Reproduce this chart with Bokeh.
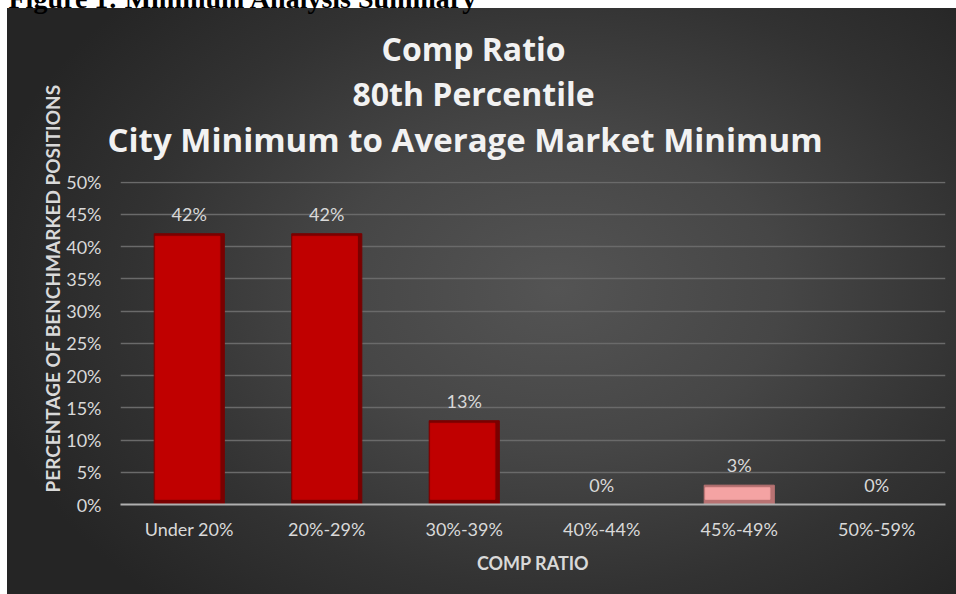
import math
from bokeh.plotting import figure
from bokeh.models import (ColumnDataSource, FactorRange, Range1d, NumeralTickFormatter,
                          SingleIntervalTicker, LabelSet, Title)
from bokeh.transform import dodge
from bokeh.core.properties import value
from bokeh.embed import file_html
from bokeh.resources import INLINE

# ---- data ----
categories = ["Under 20%", "20%-29%", "30%-39%", "40%-44%", "45%-49%", "50%-59%"]
shares = [0.42, 0.42, 0.13, 0.00, 0.03, 0.00]
share_labels = ["42%", "42%", "13%", "0%", "3%", "0%"]
bar_colors = ["#c00000", "#c00000", "#c00000", "#c00000", "#f4a3a3", "#c00000"]
bevel_colors = ["#7a0000", "#7a0000", "#7a0000", "#7a0000", "#b87272", "#7a0000"]
title_lines = ["Comp Ratio", "80th Percentile", "City Minimum to Average Market Minimum"]
title_sizes = ["32px", "32px", "33px"]
title_offsets = [261, 232, -13]   # horizontal placement of each title line (px from frame left)
y_axis_title = "PERCENTAGE OF BENCHMARKED POSITIONS"
x_axis_title = "COMP RATIO"
caption = "Figure 1: Minimum Analysis Summary"

inner_top = [max(v - 0.004, 0.0) for v in shares]
inner_bottom = [min(0.008, t) for t in inner_top]

src = ColumnDataSource(dict(cat=categories, share=shares, lbl=share_labels,
                            color=bar_colors, bevel=bevel_colors,
                            itop=inner_top, ibot=inner_bottom))

FONT = "Lato"
TXT = "#d9d9d9"
K = 30  # canvas rows hidden above the page top (the caption is cut off there)

p = figure(x_range=FactorRange(*categories), y_range=Range1d(0, 0.501),
           width=956, height=594 + K, output_backend="svg", toolbar_location=None,
           title_location=None,
           min_border_left=120, min_border_right=11, min_border_top=0, min_border_bottom=90)

p.styles = {"margin-top": f"-{K}px",
            "background":
            f"radial-gradient(ellipse 62% 72% at 58% 48%, #545454 0%, #464646 38%, #323232 72%, #252525 100%) 7px {8 + K}px / 949px 586px no-repeat"}
p.border_fill_alpha = 0
p.background_fill_alpha = 0
p.outline_line_color = None

# bars
p.vbar(x="cat", top="share", width=0.51, source=src, fill_color="bevel",
       line_color="bevel", line_width=1)
p.vbar(x=dodge("cat", -0.012, range=p.x_range), top="itop", bottom="ibot", width=0.47,
       source=src, fill_color="color", line_color="color", line_alpha=0.9, line_width=1)

labels = LabelSet(x="cat", y="share", text="lbl", source=src, y_offset=20,
                  text_align="center", text_baseline="middle",
                  text_font=value(FONT), text_font_size="18px", text_color=TXT)
p.add_layout(labels)

# axes
p.yaxis.ticker = SingleIntervalTicker(interval=0.05)
p.yaxis.formatter = NumeralTickFormatter(format="0%")
p.yaxis.axis_line_color = None
p.yaxis.major_tick_line_color = None
p.yaxis.minor_tick_line_color = None
p.yaxis.major_label_standoff = 13
p.yaxis.major_label_text_font = FONT
p.yaxis.major_label_text_font_size = "18px"
p.yaxis.major_label_text_color = TXT

p.xaxis.axis_line_color = "#b0b0b0"
p.xaxis.axis_line_width = 2
p.xaxis.major_tick_line_color = None
p.xaxis.minor_tick_line_color = None
p.xaxis.major_label_standoff = 7
p.xaxis.major_label_text_font = FONT
p.xaxis.major_label_text_font_size = "18px"
p.xaxis.major_label_text_color = TXT
p.xaxis.axis_label = x_axis_title
p.xaxis.axis_label_text_font = FONT
p.xaxis.axis_label_text_font_style = "bold"
p.xaxis.axis_label_text_font_size = "18px"
p.xaxis.axis_label_text_color = TXT
p.xaxis.axis_label_standoff = 9

p.xgrid.grid_line_color = None
p.ygrid.grid_line_color = "#6a6a6a"
p.ygrid.grid_line_width = 1.5
p.ygrid.ticker = SingleIntervalTicker(interval=0.05)

# spacer between frame and title block
p.add_layout(Title(text=" ", text_font="Open Sans", text_font_size="10px", standoff=4), "above")
# title lines: panels added later sit further from the frame
for t, sz, off in reversed(list(zip(title_lines, title_sizes, title_offsets))):
    p.add_layout(Title(text=t, align="left", offset=off, text_font="Open Sans",
                       text_font_style="bold", text_font_size=sz, text_color="#f2f2f2",
                       standoff=0), "above")
p.add_layout(Title(text=caption, align="left", offset=-112, text_font="Liberation Serif",
                   text_font_style="bold", text_font_size="28px", text_color="#000000",
                   standoff=21), "above")

p.add_layout(Title(text=y_axis_title, align="left", offset=12, text_font=FONT,
                   text_font_style="bold", text_font_size="19px", text_color=TXT,
                   standoff=0), "left")

open("out.html", "w").write(file_html(p, INLINE))
